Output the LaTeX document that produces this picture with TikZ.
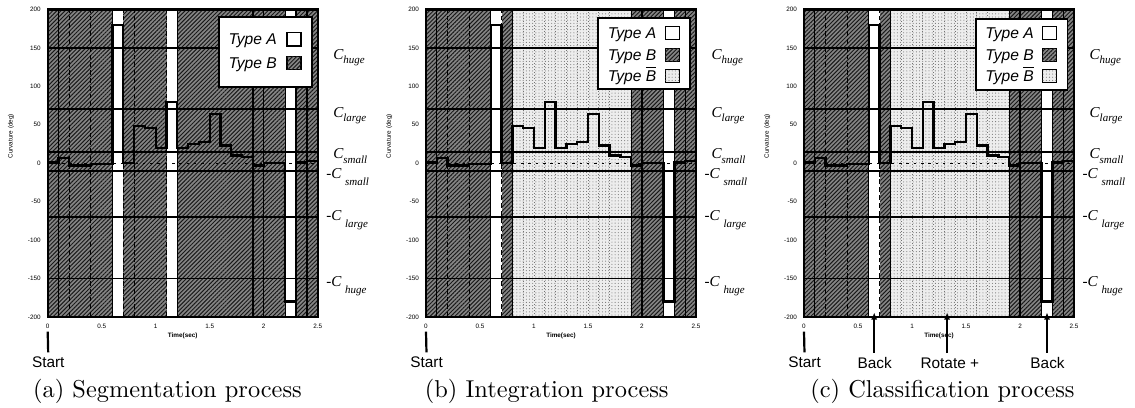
\documentclass[tikz,border=0pt]{standalone}
\usepackage{fontspec}
\newfontfamily\arial{Liberation Sans}
\newfontfamily\tms{Liberation Serif}
\usetikzlibrary{patterns.meta,arrows.meta}
\newcommand{\clab}[1]{{\tms\itshape C\raisebox{-0.3em}{\fontsize{4.5}{5}\selectfont #1}}}
\newcommand{\nclab}[1]{{\tms\itshape -C\hspace{0.25em}\raisebox{-0.45em}{\fontsize{4.5}{5}\selectfont #1}}}
\tikzset{
 typeB/.style={fill=black!48, postaction={pattern={Lines[angle=45,distance=1.2pt,line width=0.4pt]}, pattern color=black!90}},
 typeBbar/.style={fill=black!7, postaction={pattern={Dots[distance=1.3pt,radius=0.22pt]}, pattern color=black!55}},
 thr/.style={line width=0.75pt},
 seg/.style={line width=0.5pt},
 segdash/.style={line width=0.45pt, dash pattern=on 2pt off 1.2pt},
 bbarline/.style={line width=0.3pt, black!55, densely dotted},
 zeroline/.style={line width=0.4pt, dash pattern=on 1pt off 2pt},
 sigcurve/.style={line width=0.95pt, line join=miter},
 plotframe/.style={line width=0.9pt},
 legbox/.style={line width=0.75pt, fill=white},
 swatch/.style={line width=0.5pt},
 ticklab/.style={font={\arial\fontsize{2.6}{3}\selectfont}, inner sep=0.5pt},
 axlab/.style={font={\arial\fontsize{2.6}{3}\selectfont}, inner sep=0.5pt},
 cnode/.style={anchor=base west, inner sep=0pt, font={\fontsize{6.2}{7}\selectfont}},
 legtext/.style={font={\arial\itshape\fontsize{6.4}{7}\selectfont}, anchor=base west, inner sep=0pt},
 evt/.style={font={\arial\fontsize{6.3}{7}\selectfont}, inner sep=0.5pt},
 evline/.style={line width=0.9pt},
 evarrow/.style={line width=0.9pt, -{Latex[length=3pt,width=2.6pt]}},
 capt/.style={font={\fontsize{10}{12}\selectfont}, inner sep=0pt},
}
\newcommand{\commonparts}[1]{%
 \foreach \v in {150,70,15,-10,-70,-150} \draw[thr] (0,\v) -- (2.5,\v);
 \draw[zeroline] (0,0) -- (2.5,0);
 \draw[sigcurve] (0,1) -- (0.1,1) -- (0.1,7) -- (0.2,7) -- (0.2,-3) -- (0.4,-3) -- (0.4,-1) -- (0.6,-1)
   -- (0.6,180) -- (0.7,180) -- (0.7,0) -- (0.8,0) -- (0.8,48) -- (0.9,48) -- (0.9,46) -- (1.0,46)
   -- (1.0,20) -- (1.1,20) -- (1.1,80) -- (1.2,80) -- (1.2,20) -- (1.3,20) -- (1.3,25) -- (1.4,25)
   -- (1.4,28) -- (1.5,28) -- (1.5,64) -- (1.6,64) -- (1.6,23) -- (1.7,23) -- (1.7,10) -- (1.8,10)
   -- (1.8,8) -- (1.9,8) -- (1.9,-3) -- (2.0,-3) -- (2.0,0) -- (2.2,0) -- (2.2,-180) -- (2.3,-180)
   -- (2.3,1) -- (2.4,1) -- (2.4,3) -- (2.5,3);
 \draw[plotframe] (0,-200) rectangle (2.5,200);
 \foreach \v [count=\i] in {200,150,...,-200} \node[ticklab,anchor=east] (#1y\i) at (-0.05,\v) {\v};
 \foreach \t/\l [count=\i] in {0/0,0.5/0.5,1/1,1.5/1.5,2/2,2.5/2.5} \node[ticklab] (#1x\i) at (\t,-212) {\l};
 \node[axlab] (#1time) at (1.25,-225) {\textbf{Time(sec)}};
 \node[axlab,rotate=90] (#1curv) at (-0.34,35) {Curvature (deg)};
 \node[cnode] (#1c1) at (2.64,135) {\clab{huge}};
 \node[cnode] (#1c2) at (2.64,60) {\clab{large}};
 \node[cnode] (#1c3) at (2.64,6) {\clab{small}};
 \node[cnode] (#1c4) at (2.575,-20) {\nclab{small}};
 \node[cnode] (#1c5) at (2.575,-75) {\nclab{large}};
 \node[cnode] (#1c6) at (2.575,-160) {\nclab{huge}};
 \coordinate (#1st) at (0,-219);
 \node[evt] (#1start) at (0.005,-259) {Start};
 \draw[evline,shorten <=1.2pt] (#1start.north) -- (#1st);
}
\begin{document}
\begin{tikzpicture}
\useasboundingbox (0,0) rectangle (465.35pt,-166.87pt);
\fill[white] (0,0) rectangle (465.35pt,-166.87pt);
% ---------------- panel (a)
\begin{scope}[xshift=19.557pt, yshift=-66.912pt, x=44.28pt, y=0.31529pt]
 \fill[typeB] (0,-200) rectangle (2.5,200);
 \foreach \a/\b in {0.6/0.7,1.1/1.2,2.2/2.3} \fill[white] (\a,-200) rectangle (\b,200);
 \foreach \t in {0.1,0.6,1.2,1.9,2.0,2.2,2.3,2.4} \draw[seg] (\t,-200) -- (\t,200);
 \foreach \t in {0.2,0.4,0.7,0.8,1.1} \draw[segdash] (\t,-200) -- (\t,200);
 \commonparts{a}
 \draw[legbox] (1.586,99) rectangle (2.447,190.5);
 \node[legtext] (aleg1) at (1.67,154) {Type A};
 \node[legtext] (aleg2) at (1.67,123) {Type B};
 \draw[swatch,fill=white] (2.215,152.5) rectangle (2.345,169.5);
 \draw[swatch,typeB] (2.215,121.5) rectangle (2.345,138.5);
 \node[capt] (acap) at (1.109,-297) {(a) Segmentation process};
\end{scope}
% ---------------- panel (b)
\begin{scope}[xshift=174.66pt, yshift=-66.912pt, x=44.28pt, y=0.31529pt]
 \fill[typeB] (0,-200) rectangle (2.5,200);
 \foreach \a/\b in {0.6/0.7,2.2/2.3} \fill[white] (\a,-200) rectangle (\b,200);
 \fill[typeBbar] (0.8,-200) rectangle (1.9,200);
 \foreach \t in {0.9,1.0,...,1.8} \draw[bbarline] (\t,-200) -- (\t,200);
 \foreach \t in {0.1,0.6,0.8,1.9,2.0,2.2,2.3,2.4} \draw[seg] (\t,-200) -- (\t,200);
 \foreach \t in {0.2,0.4,0.7} \draw[segdash] (\t,-200) -- (\t,200);
 \commonparts{b}
 \draw[legbox] (1.595,96) rectangle (2.444,188.5);
 \node[legtext] (bleg1) at (1.68,162) {Type A};
 \node[legtext] (bleg2) at (1.68,134) {Type B};
 \node[legtext] (bleg3) at (1.68,106) {Type $\overline{\hbox{\arial\itshape B}}$};
 \draw[swatch,fill=white] (2.215,160.5) rectangle (2.345,177.5);
 \draw[swatch,typeB] (2.215,132.5) rectangle (2.345,149.5);
 \draw[swatch,typeBbar] (2.215,104.5) rectangle (2.345,121.5);
 \node[capt] (bcap) at (1.118,-297) {(b) Integration process};
\end{scope}
% ---------------- panel (c)
\begin{scope}[xshift=329.64pt, yshift=-66.912pt, x=44.28pt, y=0.31529pt]
 \fill[typeB] (0,-200) rectangle (2.5,200);
 \foreach \a/\b in {0.6/0.7,2.2/2.3} \fill[white] (\a,-200) rectangle (\b,200);
 \fill[typeBbar] (0.8,-200) rectangle (1.9,200);
 \foreach \t in {0.9,1.0,...,1.8} \draw[bbarline] (\t,-200) -- (\t,200);
 \foreach \t in {0.1,0.6,0.8,1.9,2.0,2.2,2.3,2.4} \draw[seg] (\t,-200) -- (\t,200);
 \foreach \t in {0.2,0.4,0.7} \draw[segdash] (\t,-200) -- (\t,200);
 \commonparts{c}
 \draw[legbox] (1.59,95) rectangle (2.44,188);
 \node[legtext] (cleg1) at (1.675,162) {Type A};
 \node[legtext] (cleg2) at (1.675,134) {Type B};
 \node[legtext] (cleg3) at (1.675,106) {Type $\overline{\hbox{\arial\itshape B}}$};
 \draw[swatch,fill=white] (2.21,160.5) rectangle (2.34,177.5);
 \draw[swatch,typeB] (2.21,132.5) rectangle (2.34,149.5);
 \draw[swatch,typeBbar] (2.21,104.5) rectangle (2.34,121.5);
 \coordinate (ctip1) at (0.65,-194);
 \coordinate (ctip2) at (1.325,-194);
 \coordinate (ctip3) at (2.25,-194);
 \node[evt] (cback1) at (0.655,-260) {Back};
 \node[evt] (crot) at (1.35,-260) {Rotate +};
 \node[evt] (cback2) at (2.255,-260) {Back};
 \draw[evarrow,shorten <=1.2pt] (cback1.north -| ctip1) -- (ctip1);
 \draw[evarrow,shorten <=1.2pt] (crot.north -| ctip2) -- (ctip2);
 \draw[evarrow,shorten <=1.2pt] (cback2.north -| ctip3) -- (ctip3);
 \node[capt] (ccap) at (1.282,-297) {(c) Classification process};
\end{scope}
\end{tikzpicture}
\end{document}
